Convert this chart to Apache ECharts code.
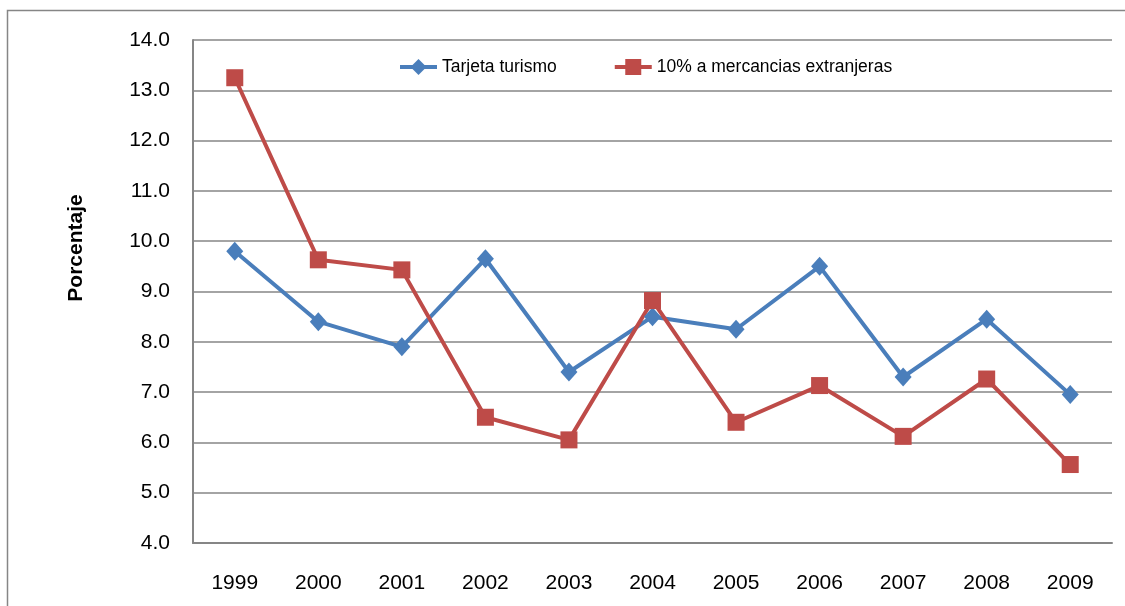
<!DOCTYPE html>
<html>
<head>
<meta charset="utf-8">
<script src="https://cdn.jsdelivr.net/npm/echarts@6/dist/echarts.min.js"></script>
<style>
  html, body { margin: 0; padding: 0; background: #fff; }
  #chart { width: 1125px; height: 606px; }
</style>
</head>
<body>
<div id="chart"></div>
<script>
// datos
const years = ['1999', '2000', '2001', '2002', '2003', '2004', '2005', '2006', '2007', '2008', '2009'];
const tarjetaTurismo = [9.8, 8.4, 7.9, 9.65, 7.4, 8.5, 8.25, 9.5, 7.3, 8.45, 6.95];
const mercanciasExtranjeras = [13.25, 9.63, 9.43, 6.5, 6.05, 8.82, 6.4, 7.13, 6.12, 7.26, 5.56];
const seriesNames = ['Tarjeta turismo', '10% a mercancias extranjeras'];

const myChart = echarts.init(document.getElementById('chart'));

const option = {
  animation: false,
  textStyle: { fontFamily: 'Liberation Sans, Arial, sans-serif' },
  graphic: [
    {
      type: 'rect',
      shape: { x: 7.5, y: 10.5, width: 1130, height: 610 },
      style: { fill: 'none', stroke: '#868686', lineWidth: 1.5 },
      silent: true
    },
    {
      // titulo del eje y
      type: 'text',
      x: 76,
      y: 248,
      rotation: Math.PI / 2,
      style: {
        text: 'Porcentaje',
        fontSize: 21,
        fontWeight: 'bold',
        fontFamily: 'Liberation Sans, Arial, sans-serif',
        fill: '#000',
        align: 'center',
        verticalAlign: 'middle'
      },
      silent: true
    }
  ],
  grid: { left: 193, top: 40, width: 919, height: 503 },
  legend: {
    top: 53,
    left: 393,
    itemWidth: 37,
    itemHeight: 20,
    itemGap: 56,
    lineStyle: { width: 4 },
    textStyle: { fontSize: 17.5, color: '#000', fontFamily: 'Liberation Sans, Arial, sans-serif' },
    data: seriesNames
  },
  xAxis: {
    type: 'category',
    data: years,
    boundaryGap: true,
    axisLine: { lineStyle: { color: '#868686', width: 2 } },
    axisTick: { show: false },
    axisLabel: { color: '#000', fontSize: 21, margin: 30 }
  },
  yAxis: {
    type: 'value',
    min: 4,
    max: 14,
    interval: 1,
    axisLine: { show: true, lineStyle: { color: '#868686', width: 2 } },
    axisTick: { show: false },
    axisLabel: {
      color: '#000',
      fontSize: 21,
      margin: 23,
      formatter: (v) => v.toFixed(1)
    },
    splitLine: { lineStyle: { color: '#868686', width: 1.5 } }
  },
  series: [
    {
      name: seriesNames[0],
      type: 'line',
      data: tarjetaTurismo,
      symbol: 'diamond',
      symbolSize: [17, 19],
      lineStyle: { color: '#4A7EBB', width: 4 },
      itemStyle: { color: '#4A7EBB' }
    },
    {
      name: seriesNames[1],
      type: 'line',
      data: mercanciasExtranjeras,
      symbol: 'rect',
      symbolSize: 17,
      lineStyle: { color: '#BE4B48', width: 4 },
      itemStyle: { color: '#BE4B48' }
    }
  ]
};

myChart.setOption(option);
</script>
</body>
</html>
